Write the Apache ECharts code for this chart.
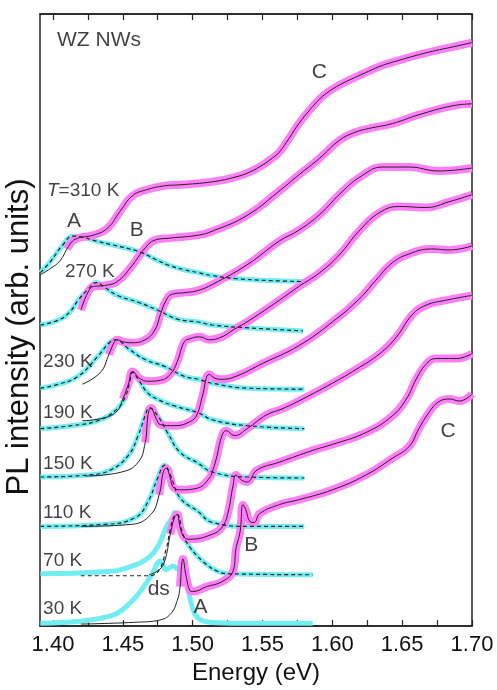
<!DOCTYPE html>
<html>
<head>
<meta charset="utf-8">
<script src="https://cdn.jsdelivr.net/npm/echarts@6.0.0/dist/echarts.min.js"></script>
<style>
  html, body { margin: 0; padding: 0; background: #fff; }
  #chart { width: 497px; height: 690px; }
</style>
</head>
<body>
<div id="chart"></div>
<script>
// energy axis (eV)
const xLabelValues = [1.40, 1.45, 1.50, 1.55, 1.60, 1.65, 1.70];
const xTickValues = [1.40, 1.425, 1.45, 1.475, 1.50, 1.525, 1.55, 1.575, 1.60, 1.625, 1.65, 1.675, 1.70];

const temperatures = ['310 K', '270 K', '230 K', '190 K', '150 K', '110 K', '70 K', '30 K'];

// fitted spectra (black), offset vertically, [energy, intensity]
const fit310 = [[1.391,356],[1.398,362],[1.405,370],[1.410,382],[1.414,390],[1.418,393],[1.421,394],[1.429,396],[1.439,403],[1.448,420],[1.457,436],[1.467,442],[1.480,446],[1.491,447],[1.514,450],[1.531,455],[1.541,460],[1.550,467],[1.557,474],[1.562,480],[1.569,494],[1.576,509],[1.584,523],[1.591,534],[1.598,542],[1.605,548],[1.612,553],[1.626,562],[1.636,568],[1.650,574],[1.660,578],[1.674,583],[1.684,586],[1.700,591]];
const fit270 = [[1.420,320],[1.425,338],[1.429,344],[1.437,345],[1.446,349],[1.456,364],[1.466,383],[1.473,391],[1.484,393],[1.504,396],[1.514,400],[1.539,416],[1.564,443],[1.576,457],[1.591,474],[1.605,492],[1.616,500],[1.626,504],[1.643,509],[1.662,518],[1.686,527],[1.700,529]];
const fit230 = [[1.421,245],[1.434,257],[1.440,275],[1.444,288],[1.446,290],[1.450,288],[1.456,287],[1.466,290],[1.473,300],[1.477,316],[1.481,330],[1.485,336],[1.496,338],[1.504,340],[1.514,346],[1.539,366],[1.562,390],[1.576,401],[1.591,417],[1.607,440],[1.621,456],[1.636,465],[1.655,465],[1.676,461],[1.700,464]];
const fit190 = [[1.421,208],[1.437,211],[1.446,218],[1.450,230],[1.454,245],[1.457,258],[1.462,251],[1.468,248],[1.477,249],[1.484,255],[1.489,268],[1.494,288],[1.498,291],[1.505,293],[1.512,290],[1.521,293],[1.529,300],[1.541,310],[1.562,330],[1.576,344],[1.591,358],[1.605,376],[1.619,400],[1.634,419],[1.648,425],[1.667,424],[1.684,430],[1.700,437]];
const fit150 = [[1.423,152],[1.449,156],[1.461,166],[1.466,186],[1.468,213],[1.470,221],[1.474,210],[1.477,204],[1.487,203],[1.498,207],[1.503,214],[1.507,233],[1.512,255],[1.516,251],[1.521,250],[1.531,253],[1.550,266],[1.576,284],[1.600,308],[1.619,331],[1.631,350],[1.643,368],[1.655,377],[1.671,382],[1.684,381],[1.700,385]];
const fit110 = [[1.420,101],[1.456,103],[1.470,113],[1.476,133],[1.479,156],[1.481,160],[1.484,150],[1.486,141],[1.491,138],[1.504,140],[1.512,150],[1.514,156],[1.517,170],[1.521,193],[1.524,198],[1.530,193],[1.539,200],[1.553,214],[1.564,220],[1.576,228],[1.600,246],[1.617,260],[1.634,276],[1.646,293],[1.657,315],[1.667,325],[1.681,330],[1.700,335]];
const fit70 = [[1.469,52],[1.476,57],[1.480,66],[1.484,93],[1.487,110],[1.489,113],[1.491,100],[1.494,90],[1.498,88],[1.514,93],[1.521,100],[1.525,113],[1.529,143],[1.531,153],[1.535,148],[1.539,146],[1.546,158],[1.562,166],[1.586,178],[1.600,184],[1.624,196],[1.643,213],[1.653,230],[1.660,250],[1.667,265],[1.674,271],[1.689,271],[1.700,276]];
const fit30 = [[1.420,2],[1.461,4],[1.476,6],[1.484,12],[1.489,26],[1.491,40],[1.492,60],[1.493,68],[1.495,53],[1.498,36],[1.500,35],[1.510,40],[1.521,45],[1.529,56],[1.531,78],[1.534,96],[1.536,123],[1.538,118],[1.541,106],[1.544,105],[1.548,114],[1.562,123],[1.576,128],[1.600,138],[1.624,153],[1.643,170],[1.655,182],[1.662,200],[1.669,216],[1.676,227],[1.684,230],[1.691,228],[1.700,235]];

// exciton A component (cyan)
const comp310 = [[1.391,358],[1.398,369],[1.407,386],[1.414,395],[1.421,394],[1.431,390],[1.443,386],[1.455,382],[1.464,378],[1.474,371],[1.484,365],[1.494,361],[1.504,358],[1.514,355],[1.531,352],[1.555,350],[1.579,349]];
const comp270 = [[1.391,305],[1.404,310],[1.412,318],[1.418,330],[1.425,341],[1.431,348],[1.437,343],[1.446,335],[1.461,328],[1.475,320],[1.489,311],[1.504,308],[1.514,305],[1.541,302],[1.579,299]];
const comp230 = [[1.391,241],[1.404,245],[1.418,253],[1.432,273],[1.441,288],[1.445,290],[1.454,281],[1.466,270],[1.480,263],[1.494,253],[1.504,250],[1.514,246],[1.539,241],[1.580,240]];
const comp190 = [[1.391,200],[1.413,203],[1.432,208],[1.446,220],[1.452,233],[1.455,248],[1.457,257],[1.461,250],[1.468,236],[1.476,229],[1.487,223],[1.504,216],[1.514,209],[1.539,203],[1.580,200]];
const comp150 = [[1.391,151],[1.425,153],[1.441,158],[1.454,173],[1.461,193],[1.466,213],[1.469,221],[1.475,213],[1.482,196],[1.491,176],[1.504,165],[1.514,156],[1.539,151],[1.580,150]];
const comp110 = [[1.391,101],[1.437,103],[1.459,110],[1.468,126],[1.475,150],[1.480,163],[1.484,153],[1.491,130],[1.504,116],[1.514,105],[1.541,101],[1.580,101]];
const comp70 = [[1.391,53],[1.437,55],[1.455,60],[1.469,70],[1.476,83],[1.481,100],[1.486,111],[1.487,115],[1.493,93],[1.498,80],[1.507,66],[1.517,56],[1.526,53],[1.586,52]];
const comp30 = [[1.391,3],[1.420,5],[1.434,8],[1.446,13],[1.457,26],[1.465,40],[1.471,53],[1.477,66],[1.481,57],[1.486,61],[1.489,58],[1.493,67],[1.495,55],[1.497,36],[1.500,18],[1.504,8],[1.512,4],[1.534,3],[1.586,3]];

// dashed A line at 70 K departs from the cyan one
const dash70 = [[1.420,51],[1.469,51],[1.476,57],[1.481,78],[1.484,98],[1.487,112],[1.489,113],[1.493,93],[1.498,80],[1.507,66],[1.517,56],[1.526,53],[1.586,52]];

// energy where the measured (magenta) data begin
const dataStart = [1.406, 1.420, 1.440, 1.450, 1.466, 1.476, 1.484, 1.491];

const fits = [fit310, fit270, fit230, fit190, fit150, fit110, fit70, fit30];
const comps = [comp310, comp270, comp230, comp190, comp150, comp110, comp70, comp30];
const dashes = [comp310, comp270, comp230, comp190, comp150, comp110, dash70, null];

// text labels placed in data coordinates
const tempLabelPos = [[1.3957,441],[1.4086,359],[1.3929,268],[1.3929,216],[1.3929,164],[1.3929,115],[1.3929,66],[1.3929,18]];
const peakLabels = [
  ['A', 1.415, 410], ['B', 1.460, 401], ['C', 1.5907, 561],
  ['A', 1.5057, 19], ['B', 1.542, 82], ['C', 1.6829, 197], ['ds', 1.4757, 37]
];

const font = 'Liberation Sans, Arial, sans-serif';
const series = [];

function lineSeries(data, style, z) {
  return { type: 'line', data: data, showSymbol: false, smooth: 0.45, lineStyle: style, z: z, silent: true };
}

fits.forEach((fit, i) => {
  series.push(lineSeries(comps[i], { color: '#72eef2', width: 5 }, 1));
  series.push(lineSeries(fit.filter(p => p[0] >= dataStart[i]), { color: '#ff7ff8', width: 8 }, 2));
  if (dashes[i]) {
    series.push(lineSeries(dashes[i], { color: '#222', width: 1.2, type: [4, 3] }, 3));
  }
  series.push(lineSeries(fit, { color: '#222', width: 1 }, 4));
});

series.push({
  type: 'scatter', symbolSize: 0, silent: true, z: 5,
  data: temperatures.map((t, i) => ({ value: tempLabelPos[i], name: i === 0 ? '{i|T}{n|=' + t + '}' : t })),
  label: {
    show: true, position: 'inside', align: 'left', verticalAlign: 'middle',
    formatter: p => p.name, color: '#111', fontSize: 19, fontFamily: font,
    rich: {
      i: { fontStyle: 'italic', fontSize: 19, fontFamily: font, color: '#111' },
      n: { fontSize: 19, fontFamily: font, color: '#111' }
    }
  }
});

series.push({
  type: 'scatter', symbolSize: 0, silent: true, z: 5,
  data: peakLabels.map(p => ({ value: [p[1], p[2]], name: p[0] })),
  label: {
    show: true, position: 'inside', align: 'center', verticalAlign: 'middle',
    formatter: p => p.name, color: '#111', fontSize: 21, fontFamily: font
  }
});

series.push({
  type: 'scatter', symbolSize: 0, silent: true, z: 5,
  data: [{ value: [1.4029, 593], name: 'WZ NWs' }],
  label: {
    show: true, position: 'inside', align: 'left', verticalAlign: 'middle',
    formatter: p => p.name, color: '#111', fontSize: 21, fontFamily: font
  }
});

function tickStyle() {
  return { show: true, inside: true, length: 6, customValues: xTickValues, lineStyle: { color: '#222', width: 1.2 } };
}

const chart = echarts.init(document.getElementById('chart'));
chart.setOption({
  animation: false,
  backgroundColor: '#fff',
  grid: { left: 40, right: 25, top: 14, bottom: 57, show: true, borderColor: '#222', borderWidth: 1.5 },
  xAxis: [{
    type: 'value', min: 1.3907, max: 1.70, position: 'bottom',
    axisLine: { show: true, lineStyle: { color: '#222', width: 1.5 } }, splitLine: { show: false },
    axisTick: tickStyle(),
    axisLabel: {
      customValues: xLabelValues, formatter: v => v.toFixed(2),
      fontSize: 22, color: '#111', margin: 8, fontFamily: font
    },
    name: 'Energy (eV)', nameLocation: 'middle', nameGap: 32,
    nameTextStyle: { fontSize: 24, color: '#111', fontFamily: font }
  }, {
    type: 'value', min: 1.3907, max: 1.70, position: 'top',
    axisLine: { show: true, lineStyle: { color: '#222', width: 1.5 } }, splitLine: { show: false },
    axisTick: tickStyle(), axisLabel: { show: false }
  }],
  yAxis: {
    type: 'value', min: 0, max: 620,
    axisLine: { show: false }, axisTick: { show: false }, axisLabel: { show: false }, splitLine: { show: false }
  },
  graphic: [{
    type: 'text', x: 19, y: 337, rotation: Math.PI / 2, silent: true,
    style: {
      text: 'PL intensity (arb. units)', fill: '#111', fontSize: 31, fontFamily: font,
      textAlign: 'center', textVerticalAlign: 'middle'
    }
  }],
  series: series
});
</script>
</body>
</html>
